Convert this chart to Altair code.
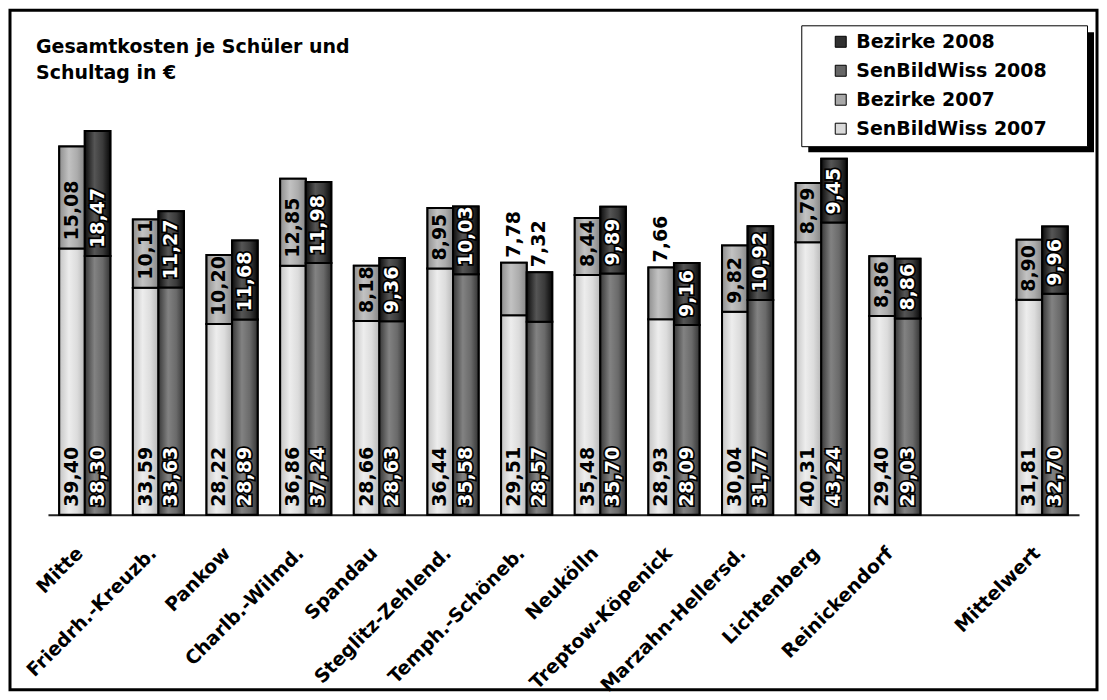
import altair as alt
import pandas as pd

# ---------------- data ----------------
districts = ["Mitte", "Friedrh.-Kreuzb.", "Pankow", "Charlb.-Wilmd.", "Spandau",
             "Steglitz-Zehlend.", "Temph.-Schöneb.", "Neukölln", "Treptow-Köpenick",
             "Marzahn-Hellersd.", "Lichtenberg", "Reinickendorf", "Mittelwert"]
sen2007 = [39.40, 33.59, 28.22, 36.86, 28.66, 36.44, 29.51, 35.48, 28.93, 30.04, 40.31, 29.40, 31.81]
bez2007 = [15.08, 10.11, 10.20, 12.85, 8.18, 8.95, 7.78, 8.44, 7.66, 9.82, 8.79, 8.86, 8.90]
sen2008 = [38.30, 33.63, 28.89, 37.24, 28.63, 35.58, 28.57, 35.70, 28.09, 31.77, 43.24, 29.03, 32.70]
bez2008 = [18.47, 11.27, 11.68, 11.98, 9.36, 10.03, 7.32, 9.89, 9.16, 10.92, 9.45, 8.86, 9.96]
years = ["2007", "2008"]
legend_order = ["Bezirke 2008", "SenBildWiss 2008", "Bezirke 2007", "SenBildWiss 2007"]
title_lines = ["Gesamtkosten je Schüler und", "Schultag in €"]

FONT = "DejaVu Sans"
flat = {"SenBildWiss 2007": "#dadada", "Bezirke 2007": "#a8a8a8",
        "SenBildWiss 2008": "#666666", "Bezirke 2008": "#303030"}
grad_stops = {
    "SenBildWiss 2007": ["#c4c4c4", "#ededed", "#dcdcdc", "#b8b8b8"],
    "Bezirke 2007": ["#8e8e8e", "#c2c2c2", "#acacac", "#868686"],
    "SenBildWiss 2008": ["#383838", "#828282", "#6a6a6a", "#343434"],
    "Bezirke 2008": ["#0c0c0c", "#555555", "#3a3a3a", "#080808"],
}

# slot layout: blank slot before the average
x_domain = districts[:-1] + [" "] + districts[-1:]

rows, labs = [], []
def fmt(v):
    return f"{v:.2f}".replace(".", ",")

for i, d in enumerate(districts):
    for yr, s, b in (("2007", sen2007[i], bez2007[i]), ("2008", sen2008[i], bez2008[i])):
        rows.append(dict(district=d, year=yr, series=f"SenBildWiss {yr}", y0=0.0, y1=s))
        rows.append(dict(district=d, year=yr, series=f"Bezirke {yr}", y0=s, y1=s + b))
        tc = "white" if yr == "2008" else "black"
        labs.append(dict(district=d, year=yr, pos=0.0, text=fmt(s), tcolor=tc, where="in"))
        if b >= 8:
            labs.append(dict(district=d, year=yr, pos=s, text=fmt(b), tcolor=tc, where="in"))
        else:
            labs.append(dict(district=d, year=yr, pos=s + b, text=fmt(b), tcolor="black", where="out"))

bars = pd.DataFrame(rows)
labels = pd.DataFrame(labs)

xenc = alt.X("district:N", sort=x_domain,
             scale=alt.Scale(domain=x_domain, range=[38, 1070], paddingInner=0.306, paddingOuter=0.153),
             axis=alt.Axis(title=None, labelAngle=-45, labelAlign="right", labelBaseline="middle",
                           labelFontSize=19, labelFontWeight="bold", labelColor="black", labelFont=FONT,
                           labelPadding=35, labelOffset=-5, ticks=False, tickSize=0,
                           domainColor="#222222", domainWidth=2, offset=-175, labelLimit=400,
                           grid=False, labelOverlap=False))
xoff = alt.XOffset("year:N", scale=alt.Scale(domain=years, paddingInner=0, paddingOuter=0))
yscale = alt.Scale(domain=[0, 60], range=[505, 99], nice=False)
yenc = alt.Y("y0:Q", scale=yscale, axis=None)
y2enc = alt.Y2("y1:Q")

# trailing spaces kept (zero-width char stops trimming) to widen the legend box on the right
PAD = "     \u200b"
base = alt.Chart(bars).mark_bar(stroke="black", strokeWidth=2).encode(
    x=xenc, xOffset=xoff, y=yenc, y2=y2enc,
    color=alt.Color("series:N",
                    scale=alt.Scale(domain=legend_order, range=[flat[s] for s in legend_order]),
                    legend=alt.Legend(title=None, orient="none", legendX=792, legendY=15,
                                      fillColor="white", strokeColor="black", padding=7,
                                      symbolOffset=23, symbolType="square", symbolSize=121,
                                      symbolStrokeColor="black", symbolStrokeWidth=1,
                                      labelFontSize=19, labelFontWeight="bold", labelColor="black",
                                      labelFont=FONT, rowPadding=9, labelOffset=6,
                                      labelExpr=f"datum.label + '{PAD}'", labelLimit=400)),
)

overlays = []
for s, cols in grad_stops.items():
    g = alt.LinearGradient(gradient="linear", x1=0, x2=1, y1=0, y2=0,
                           stops=[alt.GradientStop(offset=o, color=c)
                                  for o, c in zip([0, 0.38, 0.7, 1], cols)])
    overlays.append(
        alt.Chart(bars).transform_filter(alt.datum.series == s)
        .mark_bar(fill=g, stroke="black", strokeWidth=2)
        .encode(x=xenc, xOffset=xoff, y=yenc, y2=y2enc)
    )

ytext = alt.Y("pos:Q", scale=yscale, axis=None)
halo = alt.Chart(labels).transform_filter(
    (alt.datum.where == "in") & (alt.datum.tcolor == "white")
).mark_text(angle=270, align="left", baseline="middle", dx=8, fontSize=19, fontWeight="bold",
            font=FONT, fill="black", stroke="black", strokeWidth=3.5).encode(
    x=xenc, xOffset=xoff, y=ytext, text="text:N")
inside = alt.Chart(labels).transform_filter(alt.datum.where == "in").mark_text(
    angle=270, align="left", baseline="middle", dx=8, fontSize=19, fontWeight="bold", font=FONT
).encode(x=xenc, xOffset=xoff, y=ytext, text="text:N",
         color=alt.Color("tcolor:N", scale=None))
outside = alt.Chart(labels).transform_filter(alt.datum.where == "out").mark_text(
    angle=270, align="left", baseline="middle", dx=5, fontSize=19, fontWeight="bold", font=FONT,
    color="black"
).encode(x=xenc, xOffset=xoff, y=ytext, text="text:N")

shadow = alt.Chart(pd.DataFrame({"k": [0]})).mark_rect(color="black").encode(
    x=alt.value(799), x2=alt.value(1085), y=alt.value(22), y2=alt.value(142))

chart = alt.layer(shadow, base, *overlays, halo, inside, outside).properties(
    width=1088, height=680, padding=2,
    autosize=alt.AutoSizeParams(type="none"),
    title=alt.TitleParams(text=title_lines, anchor="start", frame="group", orient="top",
                          baseline="top", offset=0, dx=26, dy=73, fontSize=19,
                          fontWeight="bold", font=FONT, color="black", lineHeight=26),
).configure(
    font=FONT, background="white",
    view=alt.ViewConfig(stroke="black", strokeWidth=3),
)

chart.save("out.html", embed_options={"renderer": "svg", "actions": False})
